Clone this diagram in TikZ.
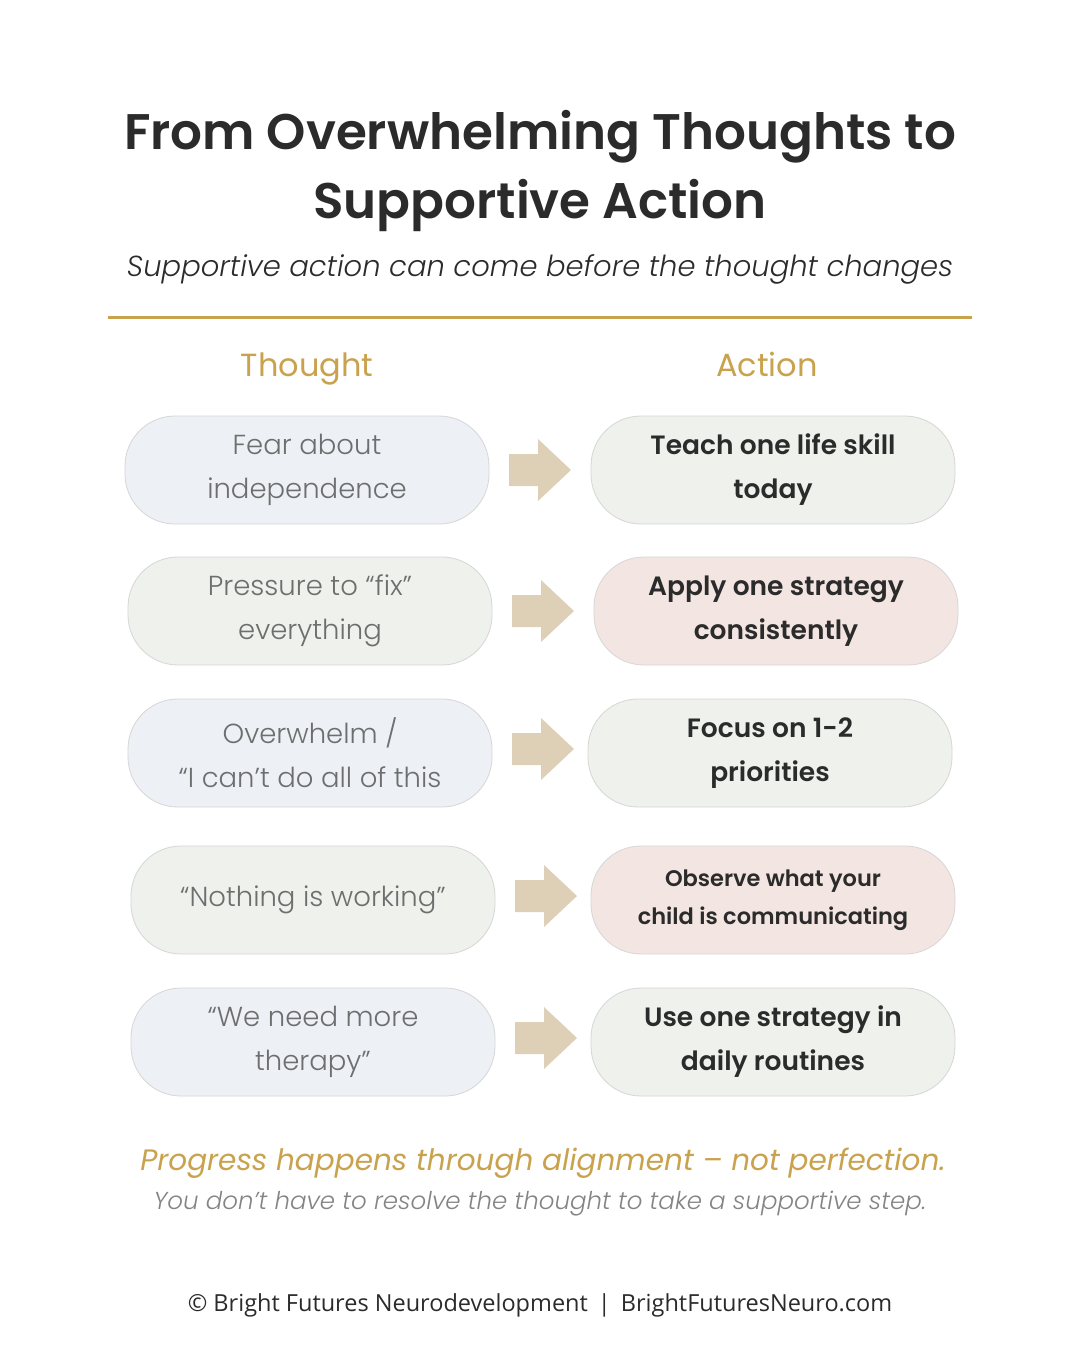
\documentclass[tikz,border=0pt]{standalone}
\usepackage{fontspec}
\setmainfont{Poppins}[BoldFont={Poppins SemiBold},ItalicFont={Poppins Italic}]
\newfontfamily\lightf{Poppins Light}
\newfontfamily\lightit{Poppins Light Italic}
\newfontfamily\foot{Open Sans}
\definecolor{gold}{HTML}{C9A24D}
\definecolor{dark}{HTML}{2B2B2B}
\definecolor{grayt}{HTML}{6E6E6E}
\definecolor{bluef}{HTML}{EDF0F5}
\definecolor{greenf}{HTML}{EEF1EC}
\definecolor{pinkf}{HTML}{F3E6E2}
\definecolor{bord}{HTML}{D6D6D6}
\definecolor{arr}{HTML}{DDD0B6}
\tikzset{
 pill/.style={draw=bord,line width=0.8pt,rounded corners=50pt,minimum width=364pt,minimum height=108pt,align=center},
 lt/.style={pill,text=grayt,font=\lightf\fontsize{27.5}{44}\selectfont},
 rt/.style={pill,text=dark,font=\fontsize{26.5}{44}\selectfont\bfseries},
 hdr/.style={text=gold,font=\fontsize{32}{38}\selectfont,anchor=base},
 barrow/.pic={\fill[arr] (-31,-16) -- (-2,-16) -- (-2,-31) -- (31,0) -- (-2,31) -- (-2,16) -- (-31,16) -- cycle;}
}
\begin{document}
\begin{tikzpicture}[x=1pt,y=-1pt]
\useasboundingbox[fill=white] (0,0) rectangle (1080,1350);
\node[text=dark,font=\fontsize{50}{69}\selectfont\bfseries,align=center] (title) at (540,171) {From Overwhelming Thoughts to\\Supportive Action};
\node[text=dark,font=\lightit\fontsize{29}{34}\selectfont] (sub) at (540,269) {Supportive action can come before the thought changes};
\coordinate (la) at (108,317); \coordinate (lb) at (972,317);
\draw[gold,line width=3pt] (la) -- (lb);
\node[hdr] (ht) at (307,376) {Thought};
\node[hdr] (ha) at (767,376) {Action};

\node[lt,fill=bluef] (l1) at (307,470) {Fear about\\independence};
\node[rt,fill=greenf] (r1) at (773,470) {Teach one life skill\\today};
\node[lt,fill=greenf] (l2) at (310,611) {Pressure to “fix”\\everything};
\node[rt,fill=pinkf] (r2) at (776,611) {Apply one strategy\\consistently};
\node[lt,fill=bluef] (l3) at (310,753) {Overwhelm /\\“I can’t do all of this};
\node[rt,fill=greenf] (r3) at (770,753) {Focus on 1-2\\priorities};
\node[lt,fill=greenf] (l4) at (313,900) {“Nothing is working”};
\node[rt,fill=pinkf,font=\fontsize{22.5}{38}\selectfont\bfseries] (r4) at (773,900) {Observe what your\\child is communicating};
\node[lt,fill=bluef] (l5) at (313,1042) {“We need more\\therapy”};
\node[rt,fill=greenf] (r5) at (773,1042) {Use one strategy in\\daily routines};

\pic at (540,470) {barrow};
\pic at (543,611) {barrow};
\pic at (543,749) {barrow};
\pic at (546,896) {barrow};
\pic at (546,1038) {barrow};

\node[text=gold,font=\fontsize{29.5}{34}\selectfont\itshape] (p1) at (543,1163) {Progress happens through alignment – not perfection.};
\node[text=grayt!85,font=\lightit\fontsize{24.5}{28}\selectfont] (p2) at (540,1204) {You don’t have to resolve the thought to take a supportive step.};
\node[text=dark,font=\foot\fontsize{23.5}{28}\selectfont] (f) at (540,1305) {© Bright Futures Neurodevelopment \,|\, BrightFuturesNeuro.com};
\end{tikzpicture}
\end{document}
